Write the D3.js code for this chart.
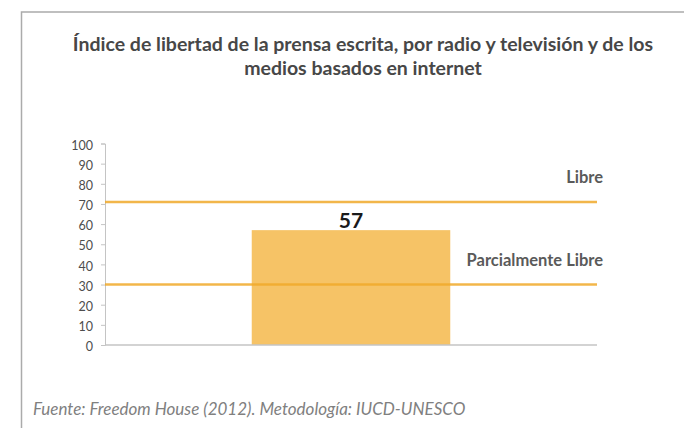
<!DOCTYPE html>
<html>
<head>
<meta charset="utf-8">
<script src="https://cdn.jsdelivr.net/npm/d3@7"></script>
<style>
  body { margin: 0; background: #fff; }
  svg { display: block; }
</style>
</head>
<body>
<div id="chart-area"></div>
<script>
// data
const categories = ['Índice'];
const values = [57];
const thresholds = [71, 30];
const thresholdLabels = ['Libre', 'Parcialmente Libre'];
const yTicks = [0, 10, 20, 30, 40, 50, 60, 70, 80, 90, 100];

const W = 684, H = 428;
const margin = { top: 143.5, right: 87, bottom: 83, left: 105 };
const width = W - margin.left - margin.right;
const height = H - margin.top - margin.bottom;

const svg = d3.select('#chart-area')
  .append('svg')
    .attr('width', W)
    .attr('height', H);

// frame
svg.append('path')
  .attr('d', 'M21.5,' + H + 'V12H' + W)
  .attr('fill', 'none')
  .attr('stroke', '#ababab')
  .attr('stroke-width', 1.5);

// title
const title = svg.append('text')
  .attr('text-anchor', 'middle')
  .attr('font-family', 'Lato, sans-serif')
  .attr('font-weight', 'bold')
  .attr('font-size', 19.5)
  .attr('fill', '#474747');
title.append('tspan').attr('x', 363).attr('y', 51)
  .text('Índice de libertad de la prensa escrita, por radio y televisión y de los');
title.append('tspan').attr('x', 363).attr('y', 75)
  .text('medios basados en internet');

const g = svg.append('g')
  .attr('transform', 'translate(' + margin.left + ',' + margin.top + ')');

const x = d3.scaleBand()
  .domain(categories)
  .range([0, width])
  .padding(0.425);

const y = d3.scaleLinear()
  .domain([0, 100])
  .range([height, 0]);

// y axis
const yAxis = g.append('g')
  .call(d3.axisLeft(y).tickValues(yTicks).tickSize(4).tickPadding(8));
yAxis.select('.domain').attr('stroke', '#c4c4c4');
yAxis.selectAll('.tick line').attr('stroke', '#c4c4c4');
yAxis.selectAll('.tick text')
  .attr('font-family', 'Lato, sans-serif')
  .attr('font-size', 12.5)
  .attr('dy', '0.45em')
  .attr('fill', '#4d4d4d');

// bar
g.selectAll('rect.bar')
  .data(values)
  .enter()
  .append('rect')
    .attr('class', 'bar')
    .attr('x', (d, i) => x(categories[i]))
    .attr('y', d => y(d))
    .attr('width', x.bandwidth())
    .attr('height', d => height - y(d))
    .attr('fill', '#f6c366');

g.selectAll('text.val')
  .data(values)
  .enter()
  .append('text')
    .attr('class', 'val')
    .attr('x', (d, i) => x(categories[i]) + x.bandwidth() / 2)
    .attr('y', d => y(d) - 2.5)
    .attr('text-anchor', 'middle')
    .attr('font-family', 'Lato, sans-serif')
    .attr('font-weight', 'bold')
    .attr('font-size', 21)
    .attr('fill', '#1a1a1a')
    .text(d => d);

// x axis line
g.append('line')
  .attr('x1', 0).attr('x2', width)
  .attr('y1', height).attr('y2', height)
  .attr('stroke', '#c4c4c4')
  .attr('stroke-width', 1.5);

// threshold lines
g.selectAll('line.thr')
  .data(thresholds)
  .enter()
  .append('line')
    .attr('class', 'thr')
    .attr('x1', 0).attr('x2', width)
    .attr('y1', d => y(d)).attr('y2', d => y(d))
    .attr('stroke', '#f0a92a')
    .attr('stroke-opacity', 0.85)
    .attr('stroke-width', 2.5);

g.selectAll('text.thr')
  .data(thresholds)
  .enter()
  .append('text')
    .attr('class', 'thr')
    .attr('x', width + 6)
    .attr('y', d => y(d) - 18.5)
    .attr('text-anchor', 'end')
    .attr('font-family', 'Lato, sans-serif')
    .attr('font-weight', 'bold')
    .attr('font-size', 16.5)
    .attr('fill', '#5a5a5a')
    .text((d, i) => thresholdLabels[i]);

// source
svg.append('text')
  .attr('x', 33)
  .attr('y', 415)
  .attr('font-family', 'Lato, sans-serif')
  .attr('font-style', 'italic')
  .attr('font-size', 17)
  .attr('fill', '#808080')
  .text('Fuente: Freedom House (2012). Metodología: IUCD-UNESCO');
</script>
</body>
</html>
